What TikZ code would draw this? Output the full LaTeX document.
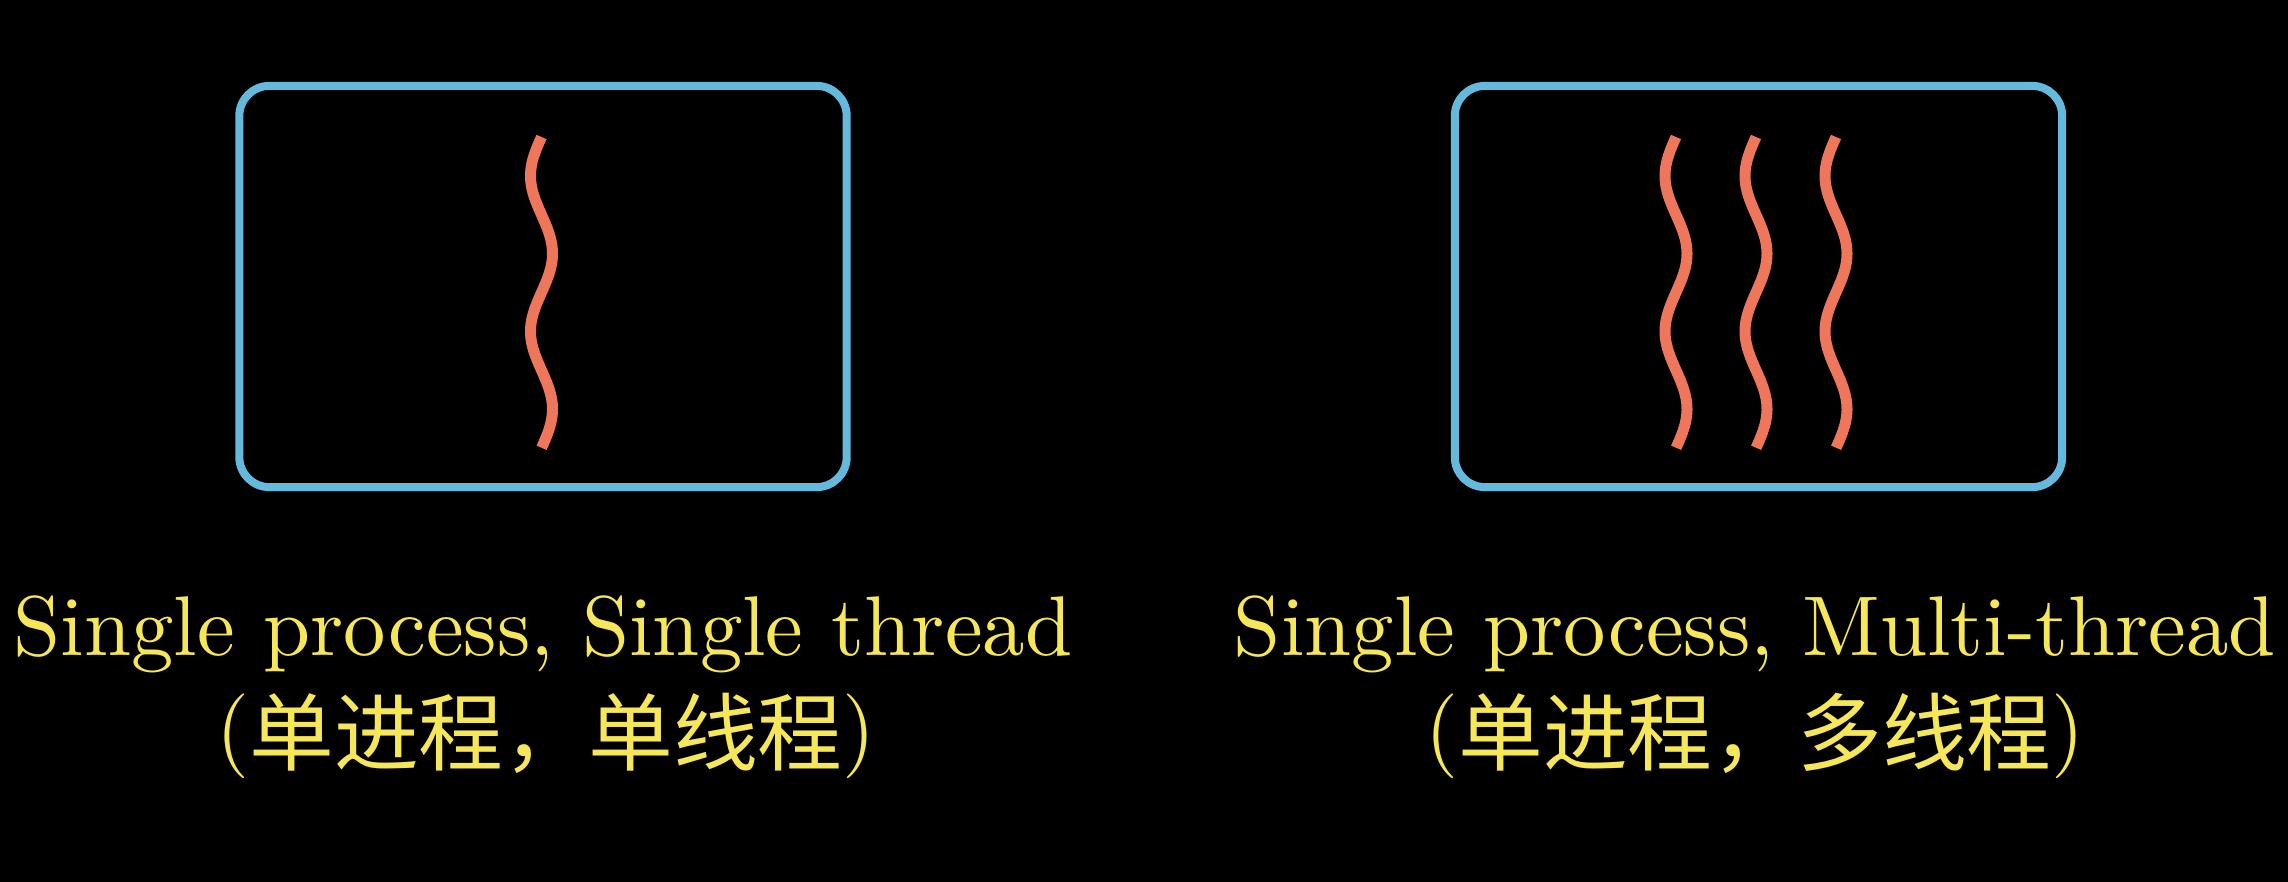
\documentclass[tikz,border=0pt]{standalone}
\usepackage{fontspec}
\newfontfamily\lmten{lmroman10-regular}[Extension=.otf]
\newfontfamily\cjk{Noto Sans CJK SC}
\definecolor{procblue}{HTML}{64B9DC}
\definecolor{threadred}{HTML}{EE765A}
\definecolor{labelyellow}{HTML}{F5E65A}
\newcommand{\cjktext}[1]{\raisebox{-0.07cm}{\cjk\fontsize{24.1pt}{28pt}\selectfont #1}}
\tikzset{
  procbox/.style={draw=procblue, line width=2.28pt, rounded corners=0.3cm,
    minimum width=6.07cm, minimum height=4.01cm, inner sep=0pt},
  threadline/.style={draw=threadred, line width=3.13pt, line cap=butt},
  labeltext/.style={text=labelyellow, anchor=base, inner sep=0pt,
    font=\lmten\fontsize{24.1pt}{28pt}\selectfont},
}
\begin{document}
\begin{tikzpicture}[x=0.01cm, y=-0.01cm]
  \useasboundingbox (0,0) rectangle (2288,882);
  \fill[black] (0,0) rectangle (2288,882);
  % process boxes
  \node[procbox] (p1) at (543,286.5) {};
  \node[procbox] (p2) at (1758.5,286.5) {};
  % threads
  \foreach \cx in {541.5}{
    \draw[threadline] plot[domain=0:2, samples=100, smooth] ({\cx - 11*sin(360*\x)}, {137 + 155.5*\x});
  }
  \foreach \cx in {1676,1756,1836}{
    \draw[threadline] plot[domain=0:2, samples=100, smooth] ({\cx - 11*sin(360*\x)}, {137 + 155.5*\x});
  }
  % labels
  \node[labeltext] (l1a) at (543,655) {Single process, Single thread};
  \node[labeltext] (l1b) at (546,757) {(\cjktext{单进程，单线程})};
  \node[labeltext] (l2a) at (1755,655) {Single process, Multi-thread};
  \node[labeltext] (l2b) at (1755,757) {(\cjktext{单进程，多线程})};
\end{tikzpicture}
\end{document}
